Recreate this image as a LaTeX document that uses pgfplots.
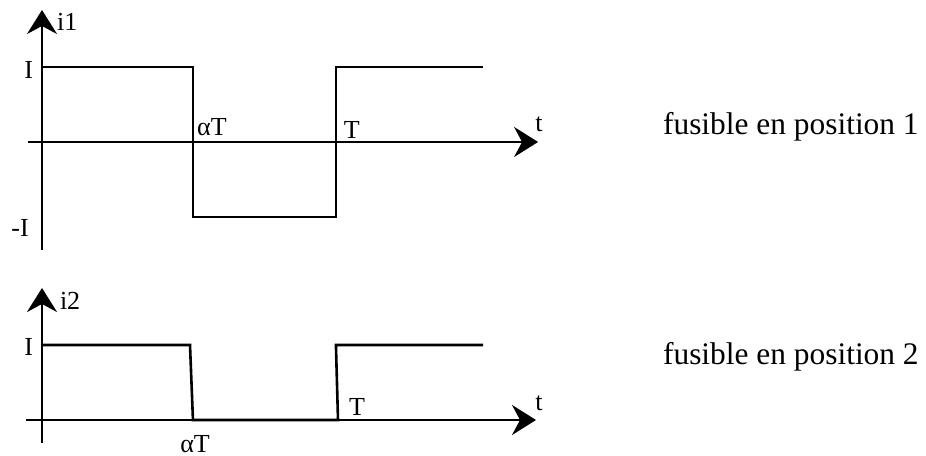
\documentclass[border=0pt]{standalone}
\usepackage{pgfplots}
\pgfplotsset{compat=1.18}
\usetikzlibrary{arrows.meta}
\usepackage{fontspec}
\setmainfont{Liberation Serif}

\newcommand{\lblfont}{\fontsize{13}{15}\selectfont}
\newcommand{\capfont}{\fontsize{15.7}{18}\selectfont}

\pgfplotsset{
  signal/.style={
    axis lines*=middle,
    anchor=origin,
    x=148pt, y=37.5pt,
    ticks=none,
    clip=false,
    axis line style={line width=1.2pt, -{Stealth[length=12pt,width=15pt,inset=4pt]}},
  },
  wave/.style={black, line width=1.3pt, mark=none},
}

\begin{document}
\begin{tikzpicture}
\useasboundingbox (0,0) rectangle (463pt,227.5pt);

% fusible en position 1
\begin{axis}[signal, at={(21pt,156.5pt)},
    xmin=-0.047, xmax=1.676, ymin=-1.44, ymax=1.76]
  \addplot[wave] coordinates {(0,1) (0.51,1) (0.51,-1) (0.993,-1) (0.993,1) (1.49,1)};
  \node[font=\lblfont] at (axis cs:0.085,1.60) {i1};
  \node[font=\lblfont] at (axis cs:-0.045,0.96) {I};
  \node[font=\lblfont] at (axis cs:-0.074,-1.15) {-I};
  \node[font=\lblfont] at (axis cs:0.574,0.20) {αT};
  \node[font=\lblfont] at (axis cs:1.047,0.16) {T};
  \node[font=\lblfont] at (axis cs:1.679,0.24) {t};
  \node[font=\capfont] at (axis cs:2.53,0.20) {fusible en position 1};
\end{axis}

% fusible en position 2
\begin{axis}[signal, at={(21pt,17.5pt)},
    xmin=-0.054, xmax=1.669, ymin=-0.307, ymax=1.76]
  \addplot[wave] coordinates {(0,1) (0.50,1) (0.51,0) (1.0,0) (0.993,1) (1.49,1)};
  \node[font=\lblfont] at (axis cs:0.095,1.587) {i2};
  \node[font=\lblfont] at (axis cs:-0.045,0.973) {I};
  \node[font=\lblfont] at (axis cs:0.517,-0.32) {αT};
  \node[font=\lblfont] at (axis cs:1.064,0.173) {T};
  \node[font=\lblfont] at (axis cs:1.679,0.227) {t};
  \node[font=\capfont] at (axis cs:2.53,0.84) {fusible en position 2};
\end{axis}
\end{tikzpicture}
\end{document}
